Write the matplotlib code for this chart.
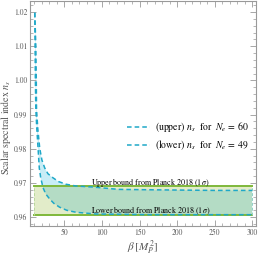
import numpy as np
import matplotlib.pyplot as plt
from matplotlib.patches import Rectangle

plt.rcParams['font.family'] = 'STIXGeneral'
plt.rcParams['mathtext.fontset'] = 'stix'

# n_s curves
beta_upper = [10.5, 11.9, 12.5, 12.8, 14.5, 17.1, 20.0, 23.7, 28.0, 34.7,
              42.0, 52.3, 65.0, 87.4, 122.5, 160, 204, 250, 300]
ns_upper = [1.0198, 1.0100, 1.0002, 0.9916, 0.9859, 0.9801, 0.9767, 0.9744,
            0.9727, 0.9715, 0.9704, 0.9696, 0.9691, 0.9688, 0.9681, 0.9680,
            0.9679, 0.9678, 0.9678]

beta_lower = [10.5, 10.9, 11.3, 11.9, 13.2, 14.9, 16.5, 18.4, 21.5, 25.0,
              30.3, 36.0, 43.5, 53.0, 65.5, 91.8, 130, 164.7, 220, 300]
ns_lower = [1.0198, 1.0100, 1.0002, 0.9916, 0.9859, 0.9801, 0.9744, 0.9715,
            0.9686, 0.9668, 0.9653, 0.9640, 0.9629, 0.9620, 0.9614, 0.9609,
            0.9608, 0.9607, 0.9607, 0.9607]

# Planck 2018 1-sigma band
band_lo = 0.9607
band_hi = 0.9691
band_beta = [10, 300]

label_upper = r"(upper) $n_s$  for  $N_e\,=\,60$"
label_lower = r"(lower) $n_s$  for  $N_e\,=\,49$"

curve_col = '#1fa8c8'
green = '#7fb83a'

fig = plt.figure(figsize=(2.59, 2.56), dpi=100)
ax = fig.add_axes([0.116, 0.116, 0.872, 0.881])

# region between the curves
poly_x = np.r_[beta_upper, beta_lower[::-1]]
poly_y = np.r_[ns_upper, ns_lower[::-1]]
ax.fill(poly_x, poly_y, color='#c8edf6', lw=0, zorder=1)

# band
ax.fill_between(band_beta, band_lo, band_hi, color='#e2ecc9', lw=0, zorder=2)
overlap = ax.fill(poly_x, poly_y, color='#b4dcc5', lw=0, zorder=3)[0]
clip = Rectangle((band_beta[0], band_lo), band_beta[1] - band_beta[0],
                 band_hi - band_lo, transform=ax.transData)
overlap.set_clip_path(clip)

ax.plot(band_beta, [band_hi, band_hi], color=green, lw=1.4, zorder=4)
ax.plot(band_beta, [band_lo, band_lo], color=green, lw=1.4, zorder=4)
ax.plot([band_beta[0]] * 2, [band_lo, band_hi], color='#b8d89c', lw=0.7,
        ls=(0, (3, 2)), zorder=4)
ax.plot([band_beta[1]] * 2, [band_lo, band_hi], color='#8fd0c8', lw=0.7,
        ls=(0, (3, 2)), zorder=4)

l1, = ax.plot(beta_upper, ns_upper, color=curve_col, lw=1.1,
              dashes=(3, 2), zorder=5, label=label_upper)
l2, = ax.plot(beta_lower, ns_lower, color=curve_col, lw=1.1,
              dashes=(3, 2), zorder=5, label=label_lower)

ax.text(165, 0.9701, r"Upper bound from Planck 2018 (1$\,\sigma$)",
        fontsize=5.8, ha='center', va='center', zorder=6)
ax.text(165, 0.9616, r"Lower bound from Planck 2018 (1$\,\sigma$)",
        fontsize=5.8, ha='center', va='center', zorder=6)

ax.legend(handles=[l1, l2], loc='center left', bbox_to_anchor=(0.43, 0.40),
          frameon=False, fontsize=7, handlelength=2.3, handletextpad=0.6,
          borderaxespad=0, borderpad=0, labelspacing=0.4)

ax.set_xlim(4.2, 305)
ax.set_ylim(0.9573, 1.0233)
ax.set_xticks([50, 100, 150, 200, 250, 300])
ax.set_xticks(np.arange(10, 305, 10), minor=True)
ax.set_yticks([0.96, 0.97, 0.98, 0.99, 1.00, 1.01, 1.02])
ax.set_yticks(np.arange(0.958, 1.023, 0.002), minor=True)
ax.yaxis.set_major_formatter(plt.FormatStrFormatter('%.2f'))

ax.tick_params(which='both', direction='in', top=True, right=True,
               colors='#999999', labelcolor='#555555', labelsize=5.5, pad=2)
ax.tick_params(which='major', length=4, width=0.6)
ax.tick_params(which='minor', length=2, width=0.5)
for s in ax.spines.values():
    s.set_color('#999999')
    s.set_linewidth(0.8)

ax.set_xlabel(r"$\beta\,[M_P^{\,2}]$", fontsize=8, color='#555555')
ax.xaxis.set_label_coords(0.5, -0.055, transform=ax.transAxes)
ax.xaxis.label.set_va('top')
ax.set_ylabel(r"Scalar spectral index $n_s$", fontsize=7.2, color='#555555')
ax.yaxis.set_label_coords(-0.075, 0.44, transform=ax.transAxes)

fig.savefig('out.png', dpi=100)
